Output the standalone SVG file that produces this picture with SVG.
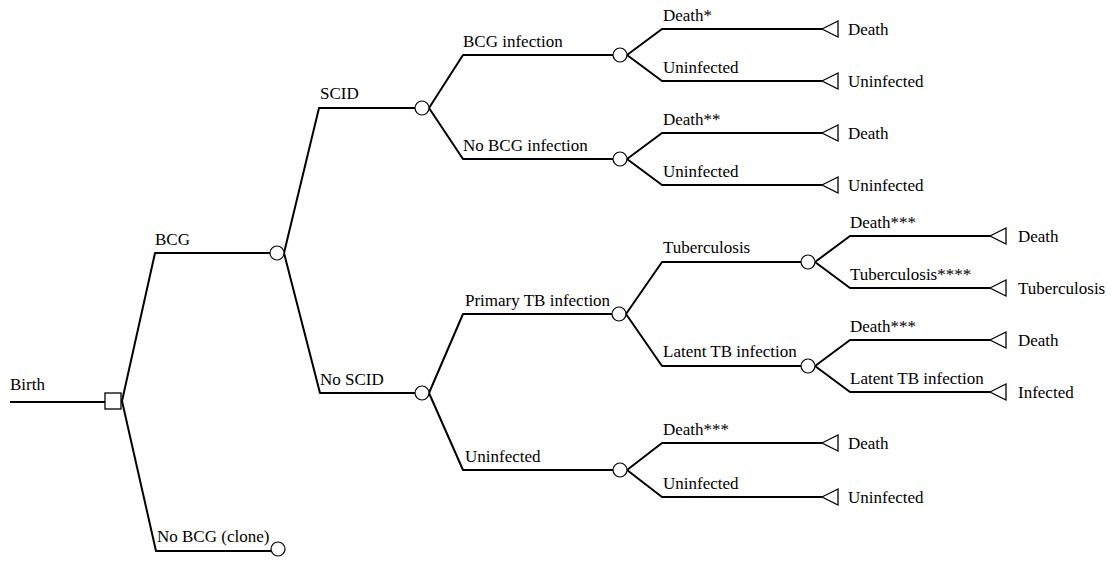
<svg xmlns="http://www.w3.org/2000/svg" width="1114" height="562" viewBox="0 0 1114 562">
<style>
text,.t{font-family:"Liberation Serif","Times New Roman",serif !important;font-size:17px !important;fill:#000}
.c{fill:none;stroke:#000;stroke-width:2;stroke-linejoin:round}
.ch{fill:#fff;stroke:#000;stroke-width:1.2}
.sq{fill:#fff;stroke:#000;stroke-width:1.3}
.tr{fill:#fff;stroke:#000;stroke-width:1.3}
</style>
<defs>
<circle id="ch" r="7" class="ch"/>
<path id="tm" d="M0,0 L16,-8 L16,8 Z" class="tr"/>
</defs>
<rect width="1114" height="562" fill="#fff"/>
<g id="connectors">
<path class="c" d="M10,402 H105"/>
<path class="c" d="M122,401 L155,253 H270"/>
<path class="c" d="M122,401 L156,551 H271"/>
<path class="c" d="M284,253 L319,108 H415"/>
<path class="c" d="M284,253 L320,393 H415"/>
<path class="c" d="M429,108 L463,55 H613"/>
<path class="c" d="M429,108 L463,159 H613"/>
<path class="c" d="M627,55 L662,29 H822"/>
<path class="c" d="M627,55 L662,81 H822"/>
<path class="c" d="M627,159 L662,133 H822"/>
<path class="c" d="M627,159 L662,185 H822"/>
<path class="c" d="M429,393 L463,314 H612"/>
<path class="c" d="M429,393 L463,470 H613"/>
<path class="c" d="M626,314 L662,262 H801"/>
<path class="c" d="M626,314 L662,366 H801"/>
<path class="c" d="M815,262 L850,236 H990"/>
<path class="c" d="M815,262 L850,288 H990"/>
<path class="c" d="M815,366 L850,340 H990"/>
<path class="c" d="M815,366 L850,392 H990"/>
<path class="c" d="M627,470 L662,443 H822"/>
<path class="c" d="M627,470 L662,497 H822"/>
</g>
<g id="birth"><text class="t" style="font-family:'Liberation Serif',serif" x="10" y="390">Birth</text><rect class="sq" x="105" y="393" width="16" height="16"/></g>
<g id="bcg"><text class="t" style="font-family:'Liberation Serif',serif" x="155" y="245">BCG</text><use href="#ch" x="277" y="253"/></g>
<g id="nobcg"><text class="t" style="font-family:'Liberation Serif',serif" x="157" y="542">No BCG (clone)</text><use href="#ch" x="278" y="549"/></g>
<g id="scid"><text class="t" style="font-family:'Liberation Serif',serif" x="320" y="99">SCID</text><use href="#ch" x="422" y="108"/></g>
<g id="noscid"><text class="t" style="font-family:'Liberation Serif',serif" x="320" y="385">No SCID</text><use href="#ch" x="422" y="393"/></g>
<g id="bcginf"><text class="t" style="font-family:'Liberation Serif',serif" x="463" y="47">BCG infection</text><use href="#ch" x="620" y="55"/></g>
<g id="nobcginf"><text class="t" style="font-family:'Liberation Serif',serif" x="463" y="151">No BCG infection</text><use href="#ch" x="620" y="159"/></g>
<g id="ptb"><text class="t" style="font-family:'Liberation Serif',serif" x="465" y="306">Primary TB infection</text><use href="#ch" x="619" y="314"/></g>
<g id="uninf1"><text class="t" style="font-family:'Liberation Serif',serif" x="465" y="462">Uninfected</text><use href="#ch" x="620" y="470"/></g>
<g id="tb"><text class="t" style="font-family:'Liberation Serif',serif" x="663" y="253">Tuberculosis</text><use href="#ch" x="808" y="262"/></g>
<g id="ltb"><text class="t" style="font-family:'Liberation Serif',serif" x="663" y="357">Latent TB infection</text><use href="#ch" x="808" y="366"/></g>
<g id="t1"><text class="t" style="font-family:'Liberation Serif',serif" x="663" y="21">Death*</text><use href="#tm" x="822" y="29"/><text class="t" style="font-family:'Liberation Serif',serif" x="848" y="35">Death</text></g>
<g id="t2"><text class="t" style="font-family:'Liberation Serif',serif" x="663" y="73">Uninfected</text><use href="#tm" x="822" y="81"/><text class="t" style="font-family:'Liberation Serif',serif" x="848" y="87">Uninfected</text></g>
<g id="t3"><text class="t" style="font-family:'Liberation Serif',serif" x="663" y="125">Death**</text><use href="#tm" x="822" y="133"/><text class="t" style="font-family:'Liberation Serif',serif" x="848" y="139">Death</text></g>
<g id="t4"><text class="t" style="font-family:'Liberation Serif',serif" x="663" y="177">Uninfected</text><use href="#tm" x="822" y="185"/><text class="t" style="font-family:'Liberation Serif',serif" x="848" y="191">Uninfected</text></g>
<g id="t5"><text class="t" style="font-family:'Liberation Serif',serif" x="850" y="228">Death***</text><use href="#tm" x="990" y="236"/><text class="t" style="font-family:'Liberation Serif',serif" x="1018" y="242">Death</text></g>
<g id="t6"><text class="t" style="font-family:'Liberation Serif',serif" x="850" y="280">Tuberculosis****</text><use href="#tm" x="990" y="288"/><text class="t" style="font-family:'Liberation Serif',serif" x="1018" y="294">Tuberculosis</text></g>
<g id="t7"><text class="t" style="font-family:'Liberation Serif',serif" x="850" y="332">Death***</text><use href="#tm" x="990" y="340"/><text class="t" style="font-family:'Liberation Serif',serif" x="1018" y="346">Death</text></g>
<g id="t8"><text class="t" style="font-family:'Liberation Serif',serif" x="850" y="384">Latent TB infection</text><use href="#tm" x="990" y="392"/><text class="t" style="font-family:'Liberation Serif',serif" x="1018" y="398">Infected</text></g>
<g id="t9"><text class="t" style="font-family:'Liberation Serif',serif" x="663" y="435">Death***</text><use href="#tm" x="822" y="443"/><text class="t" style="font-family:'Liberation Serif',serif" x="848" y="449">Death</text></g>
<g id="t10"><text class="t" style="font-family:'Liberation Serif',serif" x="663" y="489">Uninfected</text><use href="#tm" x="822" y="497"/><text class="t" style="font-family:'Liberation Serif',serif" x="848" y="503">Uninfected</text></g>
</svg>
